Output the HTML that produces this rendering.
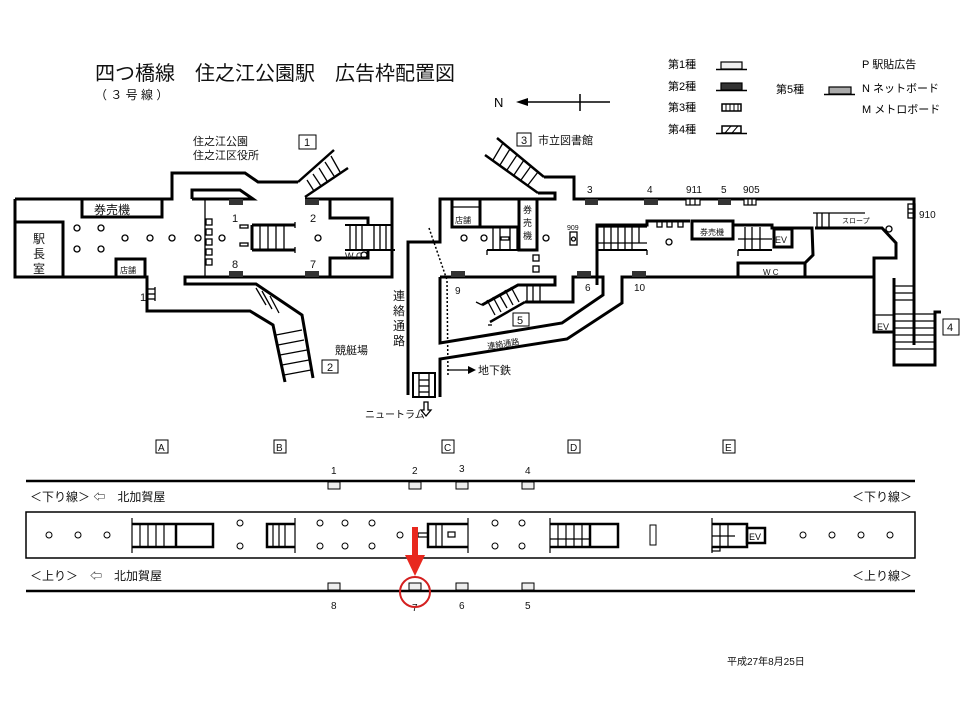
<!DOCTYPE html>
<html><head><meta charset="utf-8"><style>
html,body{margin:0;padding:0;background:#fff;}
svg{display:block;font-family:"Liberation Sans","Noto Sans CJK JP",sans-serif;}
</style></head><body>
<svg width="960" height="720" viewBox="0 0 960 720" xmlns="http://www.w3.org/2000/svg">
<rect width="960" height="720" fill="#fff"/>
<text x="95" y="80" font-size="20" fill="#111">四つ橋線　住之江公園駅　広告枠配置図</text>
<text x="95" y="99" font-size="12" fill="#111">（ ３ 号 線 ）</text>
<text x="494" y="107" font-size="13">N</text>
<line x1="525" y1="102" x2="610" y2="102" stroke="#000" stroke-width="1.5"/>
<polygon points="516,102 528,98 528,106" fill="#000"/>
<line x1="580" y1="94" x2="580" y2="111" stroke="#000" stroke-width="1.5"/>
<g font-size="11">
<text x="668" y="68">第1種</text><text x="668" y="90">第2種</text><text x="668" y="111">第3種</text><text x="668" y="133">第4種</text>
<text x="776" y="93">第5種</text>
<text x="862" y="68">P 駅貼広告</text><text x="862" y="92">N ネットボード</text><text x="862" y="113">M メトロボード</text>
</g>
<g stroke="#000">
<rect x="721" y="62" width="21" height="7" fill="#eee" stroke-width="1.2"/><line x1="716" y1="69.5" x2="747" y2="69.5" stroke-width="1.5"/>
<rect x="721" y="83" width="21" height="7" fill="#333" stroke-width="1.2"/><line x1="716" y1="90.5" x2="747" y2="90.5" stroke-width="1.5"/>
<rect x="722" y="104" width="19" height="7" fill="#fff" stroke-width="1.5"/>
<line x1="726" y1="104" x2="726" y2="111"/><line x1="730" y1="104" x2="730" y2="111"/><line x1="734" y1="104" x2="734" y2="111"/><line x1="738" y1="104" x2="738" y2="111"/>
<rect x="722" y="126" width="19" height="7" fill="#fff" stroke-width="1.5"/>
<line x1="725" y1="133" x2="731" y2="126"/><line x1="732" y1="133" x2="738" y2="126"/><line x1="716" y1="133.5" x2="747" y2="133.5" stroke-width="1.5"/>
<rect x="829" y="87" width="22" height="7" fill="#aaa" stroke-width="1.2"/><line x1="824" y1="94.5" x2="855" y2="94.5" stroke-width="1.5"/>
</g>

<g fill="none" stroke="#000" stroke-width="3">
<polyline points="15,199 172,199 172,173 245,173 258,182 298,182"/>
<polyline points="305,199 392,199 392,277 185,277 185,284 256,284 302,315 313,378"/>
<polyline points="15,199 15,277 147,277 147,311 250,311 273,325 285,382"/>
<polyline points="192,199 192,190 240,190 253,199 192,199"/>
<rect x="82" y="199" width="80" height="18"/>
<rect x="15" y="222" width="48" height="55"/>
<rect x="116" y="259" width="29" height="18"/>
<polyline points="330,199 330,218 368,218 368,225"/>
<polyline points="330,277 330,258 368,258 368,250"/>
<line x1="252" y1="225" x2="252" y2="250"/>
<line x1="252" y1="225" x2="295" y2="225"/><line x1="252" y1="250" x2="295" y2="250"/>
<line x1="345" y1="225" x2="392" y2="225" stroke-width="2"/><line x1="345" y1="250" x2="395" y2="250" stroke-width="2"/>
</g>
<g stroke="#000" stroke-width="1.3" fill="none">
<line x1="205" y1="199" x2="205" y2="277"/>
<line x1="260" y1="225" x2="260" y2="250"/><line x1="268" y1="225" x2="268" y2="250"/><line x1="276" y1="225" x2="276" y2="250"/><line x1="284" y1="225" x2="284" y2="250"/>
<line x1="295" y1="222" x2="295" y2="228"/><line x1="295" y1="247" x2="295" y2="253"/>
<line x1="350" y1="225" x2="350" y2="250"/><line x1="356" y1="225" x2="356" y2="250"/><line x1="362" y1="225" x2="362" y2="250"/><line x1="374" y1="225" x2="374" y2="250"/><line x1="380" y1="225" x2="380" y2="250"/><line x1="386" y1="225" x2="386" y2="250"/>
<rect x="206" y="219" width="6" height="6"/><rect x="206" y="229" width="6" height="6"/><rect x="206" y="239" width="6" height="6"/><rect x="206" y="249" width="6" height="6"/><rect x="206" y="259" width="6" height="6"/>
<rect x="240" y="225" width="8" height="3"/><rect x="240" y="243" width="8" height="3"/>
<circle cx="77" cy="228" r="3"/><circle cx="101" cy="228" r="3"/><circle cx="77" cy="249" r="3"/><circle cx="101" cy="249" r="3"/>
<circle cx="125" cy="238" r="3"/><circle cx="150" cy="238" r="3"/><circle cx="172" cy="238" r="3"/><circle cx="198" cy="238" r="3"/><circle cx="222" cy="238" r="3"/><circle cx="318" cy="238" r="3"/>
<circle cx="364" cy="255" r="3"/>
<line x1="305" y1="197" x2="348" y2="168" stroke-width="2.5"/><line x1="298" y1="182" x2="334" y2="150" stroke-width="2.5"/>
<line x1="307" y1="180" x2="314" y2="191"/><line x1="313" y1="174" x2="321" y2="186"/><line x1="319" y1="168" x2="327" y2="181"/><line x1="325" y1="162" x2="334" y2="176"/><line x1="331" y1="156" x2="340" y2="172"/>
<line x1="256" y1="288" x2="266" y2="305"/><line x1="262" y1="291" x2="272" y2="309"/><line x1="270" y1="296" x2="279" y2="313"/>
<line x1="276" y1="335" x2="302" y2="330"/><line x1="278" y1="345" x2="304" y2="340"/><line x1="280" y1="355" x2="307" y2="350"/><line x1="282" y1="365" x2="309" y2="360"/><line x1="284" y1="375" x2="311" y2="370"/>
<line x1="148" y1="289" x2="155" y2="289"/><line x1="148" y1="294" x2="155" y2="294"/><line x1="148" y1="299" x2="155" y2="299"/><line x1="155" y1="287" x2="155" y2="301"/>
</g>
<g fill="#333"><rect x="229" y="199" width="14" height="6"/><rect x="305" y="199" width="14" height="6"/><rect x="229" y="271" width="14" height="6"/><rect x="305" y="271" width="14" height="6"/></g>
<g font-size="11" fill="#111">
<text x="193" y="145">住之江公園</text><text x="193" y="159">住之江区役所</text>
<rect x="299" y="135" width="17" height="14" fill="none" stroke="#000"/><text x="304" y="146">1</text>
<text x="94" y="214" font-size="12">券売機</text>
<text x="33" y="243" font-size="12">駅</text><text x="33" y="258" font-size="12">長</text><text x="33" y="273" font-size="12">室</text>
<text x="120" y="273" font-size="8">店舗</text>
<text x="232" y="222">1</text><text x="310" y="222">2</text><text x="232" y="268">8</text><text x="310" y="268">7</text>
<text x="345" y="259" font-size="9">W C</text>
<text x="140" y="301">1</text>
<text x="335" y="354" font-size="11">競艇場</text>
<rect x="322" y="360" width="16" height="13" fill="none" stroke="#000"/><text x="327" y="371">2</text>
<text x="393" y="300" font-size="12">連</text><text x="393" y="315" font-size="12">絡</text><text x="393" y="330" font-size="12">通</text><text x="393" y="345" font-size="12">路</text>
<text x="365" y="418" font-size="10">ニュートラム</text>
</g>

<g fill="none" stroke="#000" stroke-width="3">
<polyline points="408,395 408,242 440,242 440,199 555,199 555,193 538,193"/>
<polyline points="544,177 574,177 574,199 914,199 914,345"/>
<polyline points="440,277 555,277 555,285 518,285 482,305"/>
<polyline points="525,302 573,302 573,277 603,277 603,295 562,323 440,343 440,277"/>
<polyline points="440,397 440,359 567,339 622,303 622,277 874,277 874,332 894,332"/>
<polyline points="874,277 874,258 896,258 896,243 882,228 815,228"/>
<polyline points="894,278 894,365 935,365 935,312 941,312"/>
<polyline points="597,285 597,225 647,225 647,221 690,221"/>
<rect x="692" y="221" width="41" height="18"/>
<polyline points="733,225 772,225 772,228 812,228 813,255 805,263 805,277"/>
<rect x="774" y="229" width="18" height="18"/>
<rect x="738" y="263" width="67" height="14"/>
<rect x="519" y="199" width="18" height="51"/>
<rect x="452" y="199" width="28" height="28"/>
<line x1="480" y1="199" x2="480" y2="227"/><line x1="480" y1="227" x2="518" y2="227"/>
<rect x="413" y="373" width="22" height="24" fill="none" stroke-width="2"/>
</g>
<g stroke="#000" stroke-width="1.3" fill="none">
<line x1="452" y1="207" x2="480" y2="207"/>
<line x1="487" y1="250" x2="518" y2="250" stroke-width="2"/><line x1="487" y1="250" x2="487" y2="255"/>
<line x1="493" y1="227" x2="493" y2="250"/><line x1="500" y1="227" x2="500" y2="250"/><line x1="510" y1="227" x2="510" y2="250"/><line x1="517" y1="227" x2="517" y2="250"/>
<rect x="501" y="237" width="8" height="3"/>
<rect x="533" y="255" width="6" height="6"/><rect x="533" y="266" width="6" height="6"/>
<rect x="570" y="232" width="7" height="13"/><circle cx="573.5" cy="239" r="2"/>
<circle cx="464" cy="238" r="3"/><circle cx="484" cy="238" r="3"/><circle cx="546" cy="238" r="3"/><circle cx="669" cy="242" r="3"/><circle cx="889" cy="229" r="3"/>
<!-- stair 3 -->
<line x1="497" y1="138" x2="544" y2="177" stroke-width="2.5"/><line x1="485" y1="155" x2="538" y2="193" stroke-width="2.5"/>
<line x1="493" y1="160" x2="503" y2="143"/><line x1="500" y1="165" x2="510" y2="149"/><line x1="507" y1="170" x2="517" y2="155"/><line x1="514" y1="175" x2="524" y2="160"/><line x1="521" y1="180" x2="531" y2="166"/><line x1="528" y1="185" x2="538" y2="172"/>
<line x1="490" y1="322" x2="525" y2="302" stroke-width="2.5"/>
<line x1="476" y1="302" x2="482" y2="305"/><line x1="488" y1="325" x2="492" y2="325"/>
<line x1="487" y1="300" x2="495" y2="315"/><line x1="493" y1="297" x2="501" y2="312"/><line x1="499" y1="294" x2="507" y2="308"/><line x1="505" y1="290" x2="513" y2="305"/><line x1="511" y1="287" x2="519" y2="302"/>
<line x1="527" y1="285" x2="527" y2="302"/><line x1="533" y1="285" x2="533" y2="302"/><line x1="540" y1="285" x2="540" y2="302"/>
<line x1="597" y1="227" x2="647" y2="227"/><line x1="597" y1="243" x2="647" y2="243"/><line x1="597" y1="250" x2="647" y2="250" stroke-width="2"/>
<line x1="604" y1="227" x2="604" y2="250"/><line x1="611" y1="227" x2="611" y2="250"/><line x1="618" y1="227" x2="618" y2="250"/><line x1="625" y1="227" x2="625" y2="250"/><line x1="632" y1="227" x2="632" y2="250"/><line x1="639" y1="227" x2="639" y2="243"/>
<line x1="647" y1="250" x2="647" y2="255"/>
<rect x="657" y="221" width="5" height="6"/><rect x="667" y="221" width="5" height="6"/><rect x="678" y="221" width="5" height="6"/>
<line x1="738" y1="250" x2="772" y2="250" stroke-width="2"/><line x1="738" y1="250" x2="738" y2="256"/><line x1="738" y1="239" x2="772" y2="239"/>
<line x1="745" y1="227" x2="745" y2="250"/><line x1="752" y1="227" x2="752" y2="250"/><line x1="760" y1="227" x2="760" y2="250"/>
<line x1="817" y1="213" x2="817" y2="228"/><line x1="822" y1="213" x2="822" y2="228"/><line x1="829" y1="213" x2="829" y2="228"/><line x1="813" y1="213" x2="865" y2="213"/>
<line x1="894" y1="286" x2="914" y2="286"/><line x1="894" y1="293" x2="914" y2="293"/><line x1="894" y1="300" x2="914" y2="300"/><line x1="894" y1="314" x2="934" y2="314"/><line x1="894" y1="321" x2="934" y2="321"/><line x1="894" y1="328" x2="934" y2="328"/><line x1="894" y1="335" x2="934" y2="335"/><line x1="894" y1="342" x2="934" y2="342"/><line x1="894" y1="349" x2="934" y2="349"/>
<line x1="874" y1="315" x2="894" y2="315"/>
<rect x="908" y="204" width="7" height="14"/><line x1="908" y1="209" x2="915" y2="209"/><line x1="908" y1="213" x2="915" y2="213"/>
<line x1="419" y1="380" x2="429" y2="380"/><line x1="419" y1="386" x2="429" y2="386"/><line x1="419" y1="392" x2="429" y2="392"/><line x1="419" y1="373" x2="419" y2="397"/><line x1="429" y1="373" x2="429" y2="397"/>
<polyline points="429,228 447,280 448,377" stroke-dasharray="2,2" stroke-width="1.5"/>
<line x1="448" y1="370" x2="470" y2="370"/>
<path d="M424,402 v8 h-3 l5,6 l5,-6 h-3 v-8z"/>
</g>
<polygon points="476,370 468,366 468,374" fill="#000"/>
<g fill="#333"><rect x="585" y="199" width="13" height="6"/><rect x="644" y="199" width="14" height="6"/><rect x="718" y="199" width="13" height="6"/>
<rect x="451" y="271" width="14" height="6"/><rect x="577" y="271" width="14" height="6"/><rect x="632" y="271" width="14" height="6"/></g>
<g fill="#fff" stroke="#000" stroke-width="1.2"><rect x="686" y="199" width="14" height="6"/><rect x="744" y="199" width="12" height="6"/>
<line x1="690" y1="199" x2="690" y2="205"/><line x1="695" y1="199" x2="695" y2="205"/><line x1="748" y1="199" x2="748" y2="205"/><line x1="752" y1="199" x2="752" y2="205"/></g>
<g font-size="11" fill="#111">
<rect x="517" y="133" width="14" height="13" fill="none" stroke="#000"/><text x="521" y="144">3</text>
<text x="538" y="144">市立図書館</text>
<text x="587" y="193" font-size="10">3</text><text x="647" y="193" font-size="10">4</text><text x="686" y="193" font-size="10">911</text><text x="721" y="193" font-size="10">5</text><text x="743" y="193" font-size="10">905</text>
<text x="919" y="218" font-size="10">910</text>
<text x="455" y="223" font-size="8">店舗</text>
<text x="523" y="213" font-size="9">券</text><text x="523" y="226" font-size="9">売</text><text x="523" y="239" font-size="9">機</text>
<text x="567" y="230" font-size="7">909</text>
<text x="700" y="235" font-size="8">券売機</text>
<text x="775" y="243" font-size="9">EV</text>
<text x="763" y="275" font-size="8">W C</text>
<text x="842" y="223" font-size="7">スロープ</text>
<text x="877" y="330" font-size="9">EV</text>
<rect x="943" y="319" width="16" height="16" fill="none" stroke="#000"/><text x="947" y="331">4</text>
<text x="455" y="294" font-size="10">9</text><text x="585" y="291" font-size="10">6</text><text x="634" y="291" font-size="10">10</text>
<rect x="513" y="313" width="16" height="13" fill="none" stroke="#000"/><text x="517" y="324">5</text>
<text x="487" y="346" font-size="8" transform="rotate(-9 507 342)">連絡通路</text>
<text x="478" y="374" font-size="11">地下鉄</text>
</g>

<g font-size="10" fill="#111">
<rect x="156" y="440" width="12" height="13" fill="none" stroke="#000"/><text x="158" y="451">A</text>
<rect x="274" y="440" width="12" height="13" fill="none" stroke="#000"/><text x="276" y="451">B</text>
<rect x="442" y="440" width="12" height="13" fill="none" stroke="#000"/><text x="444" y="451">C</text>
<rect x="568" y="440" width="12" height="13" fill="none" stroke="#000"/><text x="570" y="451">D</text>
<rect x="723" y="440" width="12" height="13" fill="none" stroke="#000"/><text x="725" y="451">E</text>
<text x="331" y="474">1</text><text x="412" y="474">2</text><text x="459" y="472">3</text><text x="525" y="474">4</text>
<text x="331" y="609">8</text><text x="412" y="611">7</text><text x="459" y="609">6</text><text x="525" y="609">5</text>
<text x="30" y="501" font-size="12">＜下り線＞ ⇦　北加賀屋</text>
<text x="852" y="501" font-size="12">＜下り線＞</text>
<text x="30" y="580" font-size="12">＜上り＞　⇦　北加賀屋</text>
<text x="852" y="580" font-size="12">＜上り線＞</text>
<text x="727" y="665" font-size="10">平成27年8月25日</text>
</g>
<g stroke="#000" fill="none">
<line x1="26" y1="481" x2="915" y2="481" stroke-width="2.5"/>
<line x1="26" y1="591" x2="915" y2="591" stroke-width="2.5"/>
<rect x="26" y="512" width="889" height="46" stroke-width="1.5"/>
<g fill="#eee" stroke-width="1"><rect x="328" y="482" width="12" height="7"/><rect x="409" y="482" width="12" height="7"/><rect x="456" y="482" width="12" height="7"/><rect x="522" y="482" width="12" height="7"/>
<rect x="328" y="583" width="12" height="7"/><rect x="409" y="583" width="12" height="7"/><rect x="456" y="583" width="12" height="7"/><rect x="522" y="583" width="12" height="7"/></g>
<g stroke-width="1"><circle cx="49" cy="535" r="3"/><circle cx="78" cy="535" r="3"/><circle cx="107" cy="535" r="3"/>
<circle cx="240" cy="523" r="3"/><circle cx="240" cy="546" r="3"/>
<circle cx="320" cy="523" r="3"/><circle cx="345" cy="523" r="3"/><circle cx="372" cy="523" r="3"/><circle cx="320" cy="546" r="3"/><circle cx="345" cy="546" r="3"/><circle cx="372" cy="546" r="3"/>
<circle cx="400" cy="535" r="3"/>
<circle cx="495" cy="523" r="3"/><circle cx="522" cy="523" r="3"/><circle cx="495" cy="546" r="3"/><circle cx="522" cy="546" r="3"/>
<circle cx="803" cy="535" r="3"/><circle cx="832" cy="535" r="3"/><circle cx="861" cy="535" r="3"/><circle cx="890" cy="535" r="3"/>
<rect x="650" y="525" width="6" height="20"/></g>
<g stroke-width="2.5"><polyline points="132,524 213,524 213,547 132,547"/><line x1="176" y1="524" x2="176" y2="547"/>
<polyline points="295,524 267,524 267,547 295,547"/>
<polyline points="468,524 428,524 428,547 468,547"/>
<polyline points="550,524 618,524 618,547 550,547"/><line x1="590" y1="524" x2="590" y2="547"/>
<polyline points="712,524 747,524 747,547 712,547"/><rect x="747" y="528" width="18" height="15"/></g>
<g stroke-width="1.2">
<line x1="132" y1="518" x2="132" y2="553"/><line x1="140" y1="524" x2="140" y2="547"/><line x1="148" y1="524" x2="148" y2="547"/><line x1="156" y1="524" x2="156" y2="547"/><line x1="164" y1="524" x2="164" y2="547"/>
<line x1="295" y1="518" x2="295" y2="553"/><line x1="273" y1="524" x2="273" y2="547"/><line x1="279" y1="524" x2="279" y2="547"/><line x1="285" y1="524" x2="285" y2="547"/>
<line x1="468" y1="518" x2="468" y2="553"/><line x1="436" y1="524" x2="436" y2="547"/><line x1="442" y1="524" x2="442" y2="547"/><rect x="448" y="532" width="7" height="5"/><rect x="418" y="533" width="10" height="4"/>
<line x1="550" y1="518" x2="550" y2="553"/><line x1="558" y1="524" x2="558" y2="547"/><line x1="566" y1="524" x2="566" y2="547"/><line x1="574" y1="524" x2="574" y2="547"/><line x1="582" y1="524" x2="582" y2="547"/><line x1="550" y1="539" x2="590" y2="539"/>
<line x1="712" y1="518" x2="712" y2="553"/><line x1="720" y1="524" x2="720" y2="547"/><line x1="728" y1="524" x2="728" y2="547"/><line x1="712" y1="536" x2="735" y2="536"/><rect x="712" y="547" width="8" height="4"/>
</g>
</g>
<text x="749" y="540" font-size="9">EV</text>
<rect x="412" y="527" width="6" height="30" fill="#e8281e"/>
<polygon points="405,555 425,555 415,576" fill="#e8281e"/>
<circle cx="415" cy="592" r="15" fill="none" stroke="#d42020" stroke-width="2"/>
</svg>
</body></html>
